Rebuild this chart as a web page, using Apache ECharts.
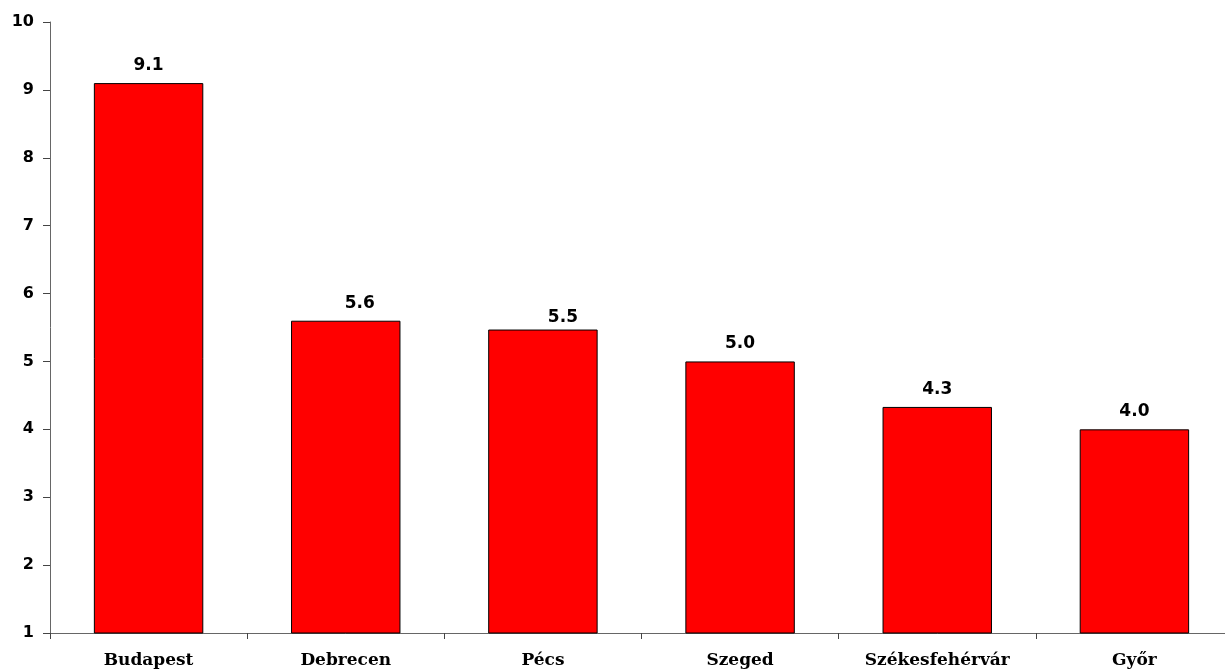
<!DOCTYPE html>
<html><head><meta charset="utf-8">
<script src="https://cdn.jsdelivr.net/npm/echarts@6/dist/echarts.min.js"></script>
<style>html,body{margin:0;padding:0;background:#fff;overflow:hidden}#c{width:1240px;height:670px}</style>
</head><body><div id="c"></div>
<script>
var categories = ['Budapest', 'Debrecen', 'Pécs', 'Szeged', 'Székesfehérvár', 'Győr'];
var values = [9.1, 5.6, 5.47, 5.0, 4.33, 4.0];
var yTicks = [1, 2, 3, 4, 5, 6, 7, 8, 9, 10];

var labelShift = {1: [14, 0], 2: [20, 6]};
var data = values.map(function (v, i) {
  var d = {value: v};
  if (labelShift[i]) d.label = {offset: labelShift[i]};
  return d;
});

var chart = echarts.init(document.getElementById('c'));
chart.setOption({
  animation: false,
  grid: {left: 50, right: 7, top: 22, bottom: 37, containLabel: false},
  xAxis: {
    type: 'category', data: categories,
    axisLine: {lineStyle: {color: '#666', width: 1}},
    axisTick: {show: true, length: 6, lineStyle: {color: '#444'}},
    axisLabel: {fontFamily: 'DejaVu Serif', fontWeight: 'bold', fontSize: 17, color: '#000', margin: 19}
  },
  yAxis: {
    type: 'value', min: yTicks[0], max: yTicks[yTicks.length - 1], interval: 1,
    axisLine: {show: true, lineStyle: {color: '#666', width: 1}},
    axisTick: {show: true, length: 7, lineStyle: {color: '#444'}},
    splitLine: {show: false},
    axisLabel: {fontFamily: 'DejaVu Sans', fontWeight: 'bold', fontSize: 16, color: '#000', margin: 16}
  },
  series: [{
    type: 'bar', data: data, barWidth: '55.5%',
    itemStyle: {color: '#ff0000', borderColor: '#000', borderWidth: 1},
    label: {show: true, position: 'top', distance: 9, fontFamily: 'DejaVu Sans', fontWeight: 'bold', fontSize: 17, color: '#000',
      formatter: function (p) { return p.value.toFixed(1); }}
  }]
});
</script></body></html>
